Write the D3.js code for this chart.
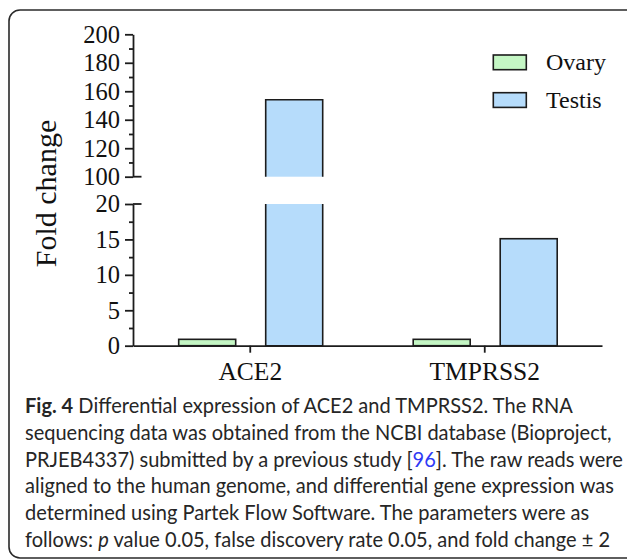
<!DOCTYPE html>
<html>
<head>
<meta charset="utf-8">
<script src="https://cdn.jsdelivr.net/npm/d3@7"></script>
<style>
  html, body { margin: 0; padding: 0; background: #fff; }
  svg { display: block; }
</style>
</head>
<body>
<svg id="chart" width="627" height="559"></svg>
<script>
// ---- data ----
const categories = ["ACE2", "TMPRSS2"];
const seriesNames = ["Ovary", "Testis"];
const ovaryValues = [0.9, 0.9];
const testisValues = [154, 15.1];
const upperMajorTicks = [100, 120, 140, 160, 180, 200];
const upperMinorTicks = [110, 130, 150, 170, 190];
const lowerMajorTicks = [0, 5, 10, 15, 20];
const lowerMinorTicks = [2.5, 7.5, 12.5, 17.5];
const captionLines = [
  [{t: "Fig. 4", w: "bold"}, {t: " Differential expression of ACE2 and TMPRSS2. The RNA"}],
  [{t: "sequencing data was obtained from the NCBI database (Bioproject,"}],
  [{t: "PRJEB4337) submitted by a previous study ["}, {t: "96", c: "#2f3bf5"}, {t: "]. The raw reads were"}],
  [{t: "aligned to the human genome, and differential gene expression was"}],
  [{t: "determined using Partek Flow Software. The parameters were as"}],
  [{t: "follows: "}, {t: "p", s: "italic"}, {t: " value 0.05, false discovery rate 0.05, and fold change \u00b1 2"}]
];

const colors = {Ovary: "#c4f6c4", Testis: "#b6dcfb"};
const ink = "#1c1c1c";
const serif = "'Liberation Serif', 'Times New Roman', serif";

const svg = d3.select("#chart");

// frame
svg.append("rect")
  .attr("x", 9).attr("y", 10).attr("width", 632).attr("height", 548)
  .attr("rx", 11).attr("ry", 11)
  .attr("fill", "none").attr("stroke", "#2a2a2a").attr("stroke-width", 1.6);

// scales
const axisX = 133;
const x0 = d3.scaleBand().domain(categories).range([axisX, 602]).padding(0);
const x1 = d3.scaleBand().domain(seriesNames).range([45.7, 189.7]).paddingInner(0.345).paddingOuter(0);
const yLow = d3.scaleLinear().domain([0, 20]).range([345.7, 204]);
const yHigh = d3.scaleLinear().domain([100, 200]).range([176.7, 34.3]);

// bars
const g = svg.append("g");
const barData = [];
categories.forEach((c, i) => {
  barData.push({cat: c, s: "Ovary", v: ovaryValues[i]});
  barData.push({cat: c, s: "Testis", v: testisValues[i]});
});
barData.forEach(d => {
  const xa = x0(d.cat) + x1(d.s);
  const xb = xa + x1.bandwidth();
  if (d.v <= 20) {
    g.append("rect").attr("x", xa).attr("y", yLow(d.v))
      .attr("width", xb - xa).attr("height", yLow(0) - yLow(d.v))
      .attr("fill", colors[d.s]).attr("stroke", ink).attr("stroke-width", 1.6);
  } else {
    g.append("rect").attr("x", xa).attr("y", yLow(20))
      .attr("width", xb - xa).attr("height", yLow(0) - yLow(20))
      .attr("fill", colors[d.s]);
    g.append("path")
      .attr("d", `M${xa},${yLow(20)}V${yLow(0)}H${xb}V${yLow(20)}`)
      .attr("fill", "none").attr("stroke", ink).attr("stroke-width", 1.6);
    g.append("rect").attr("x", xa).attr("y", yHigh(d.v))
      .attr("width", xb - xa).attr("height", yHigh(100) - yHigh(d.v))
      .attr("fill", colors[d.s]);
    g.append("path")
      .attr("d", `M${xa},${yHigh(100)}V${yHigh(d.v)}H${xb}V${yHigh(100)}`)
      .attr("fill", "none").attr("stroke", ink).attr("stroke-width", 1.6);
  }
});

// axes
function styleAxis(sel) {
  sel.selectAll("path, line").attr("stroke", ink).attr("stroke-width", 1.8);
  sel.selectAll("text").attr("font-family", serif).attr("font-size", 24.5).attr("fill", "#111");
}
const gUp = svg.append("g").attr("transform", `translate(${axisX},0)`);
gUp.call(d3.axisLeft(yHigh).tickValues(upperMajorTicks).tickSize(8).tickSizeOuter(0).tickPadding(5).tickFormat(d3.format("d")));
gUp.append("g").call(d3.axisLeft(yHigh).tickValues(upperMinorTicks).tickSize(4).tickFormat("")).select(".domain").remove();
styleAxis(gUp);
gUp.append("line").attr("x1", 0).attr("x2", 8.5).attr("y1", yHigh(100)).attr("y2", yHigh(100)).attr("stroke", ink).attr("stroke-width", 1.8);
const gLo = svg.append("g").attr("transform", `translate(${axisX},0)`);
gLo.call(d3.axisLeft(yLow).tickValues(lowerMajorTicks).tickSize(8).tickSizeOuter(0).tickPadding(5).tickFormat(d3.format("d")));
gLo.append("g").call(d3.axisLeft(yLow).tickValues(lowerMinorTicks).tickSize(4).tickFormat("")).select(".domain").remove();
styleAxis(gLo);
gLo.append("line").attr("x1", 0).attr("x2", 8.5).attr("y1", yLow(20)).attr("y2", yLow(20)).attr("stroke", ink).attr("stroke-width", 1.8);
const gX = svg.append("g").attr("transform", `translate(0,${yLow(0)})`);
gX.call(d3.axisBottom(x0).tickSize(7).tickSizeOuter(0).tickPadding(10));
styleAxis(gX);
gX.selectAll("text").attr("font-size", 25.5).attr("dy", 0).attr("y", 34);

// y title
svg.append("text")
  .attr("transform", "translate(55.5,193.5) rotate(-90)")
  .attr("text-anchor", "middle")
  .attr("font-family", serif).attr("font-size", 30).attr("fill", "#111")
  .text("Fold change");

// legend
const leg = svg.append("g");
seriesNames.forEach((s, i) => {
  const yy = 55 + i * 37.7;
  leg.append("rect").attr("x", 493.3).attr("y", yy).attr("width", 33).attr("height", 14.7)
    .attr("fill", colors[s]).attr("stroke", ink).attr("stroke-width", 1.6);
  leg.append("text").attr("x", 546).attr("y", yy + 14.8)
    .attr("font-family", serif).attr("font-size", 24).attr("fill", "#111").text(s);
});

// caption
const capFont = "Lato, 'Open Sans', sans-serif";
const cap = svg.append("g");
const lineNodes = captionLines.map((parts, i) => {
  const t = cap.append("text").attr("x", 0).attr("y", 413.3 + i * 26.7)
    .attr("font-family", capFont).attr("font-size", 21).attr("fill", "#262626");
  parts.forEach(p => {
    const ts = t.append("tspan").text(p.t);
    if (p.w) ts.attr("font-weight", p.w);
    if (p.s) ts.attr("font-style", p.s);
    if (p.c) ts.attr("fill", p.c);
  });
  return t;
});
// horizontally compress the caption so the longest line spans the measured width
const natural = lineNodes[3].node().getComputedTextLength();
const sx = 589 / natural;
cap.attr("transform", `translate(25,0) scale(${sx},1)`);
</script>
</body>
</html>
